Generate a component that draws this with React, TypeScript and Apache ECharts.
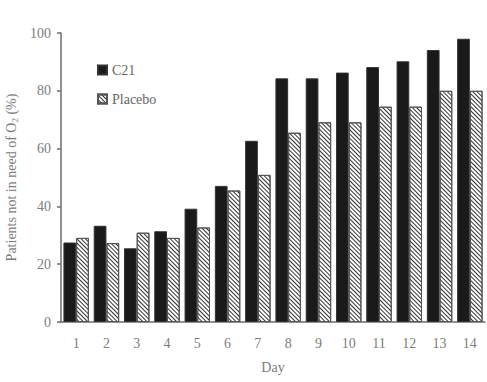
import React, { useEffect, useRef } from "react";
import * as echarts from "echarts";

const days = ["1", "2", "3", "4", "5", "6", "7", "8", "9", "10", "11", "12", "13", "14"];
const c21 = [27.5, 33.3, 25.5, 31.4, 39.2, 47.1, 62.7, 84.3, 84.3, 86.3, 88.2, 90.2, 94.1, 98.0];
const placebo = [29.1, 27.3, 30.9, 29.1, 32.7, 45.5, 50.9, 65.5, 69.1, 69.1, 74.5, 74.5, 80.0, 80.0];
const yTicks = { min: 0, max: 100, interval: 20 };

const FONT = "'Liberation Serif', 'Times New Roman', serif";
const TEXT = "#7d7d7d";
const AXIS = "#6e6e6e";

export default function App() {
  const ref = useRef<HTMLDivElement>(null);
  useEffect(() => {
    if (!ref.current) return;
    const chart = echarts.init(ref.current, undefined, { renderer: "svg" });
    chart.setOption({
      animation: false,
      textStyle: { fontFamily: FONT },
      grid: { left: 61, right: 2, top: 33, bottom: 60, containLabel: false, outerBoundsMode: "none" },
      legend: {
        orient: "vertical",
        left: 97,
        top: 63,
        padding: 0,
        icon: "rect",
        itemWidth: 9,
        itemHeight: 9,
        itemGap: 15,
        textStyle: { fontFamily: FONT, fontSize: 14, color: "#666" },
        data: ["C21", "Placebo"],
      },
      xAxis: {
        type: "category",
        data: days,
        name: "Day",
        nameLocation: "middle",
        nameGap: 38,
        nameTextStyle: { fontFamily: FONT, fontSize: 14, color: TEXT },
        axisLine: { show: true, lineStyle: { color: AXIS, width: 1.5 } },
        axisTick: { show: false },
        axisLabel: { fontFamily: FONT, fontSize: 14, color: TEXT, margin: 14 },
      },
      yAxis: {
        type: "value",
        min: yTicks.min,
        max: yTicks.max,
        interval: yTicks.interval,
        name: "Patients not in need of O{sub|2} (%)",
        nameLocation: "middle",
        nameGap: 42,
        nameTextStyle: {
          fontFamily: FONT,
          fontSize: 14,
          color: TEXT,
          rich: { sub: { fontFamily: FONT, fontSize: 9, color: TEXT, verticalAlign: "bottom", padding: [6, 0, 0, 0] } },
        },
        axisLine: { show: true, lineStyle: { color: AXIS, width: 1.5 } },
        axisTick: { show: true, length: 4, lineStyle: { color: AXIS, width: 1.5 } },
        splitLine: { show: false },
        axisLabel: { fontFamily: FONT, fontSize: 14, color: TEXT, margin: 10 },
      },
      series: [
        {
          name: "C21",
          type: "bar",
          data: c21,
          barGap: "0%",
          barCategoryGap: "16%",
          itemStyle: { color: "#1a1a1a", borderColor: "#333", borderWidth: 1 },
        },
        {
          name: "Placebo",
          type: "bar",
          data: placebo,
          barGap: "0%",
          barCategoryGap: "16%",
          itemStyle: {
            color: "#ffffff",
            borderColor: "#555",
            borderWidth: 1,
            decal: {
              symbol: "rect",
              symbolSize: 1,
              color: "#333333",
              backgroundColor: "#f2f2f2",
              dashArrayX: [1, 0],
              dashArrayY: [1, 2],
              rotation: Math.PI / 4,
            },
          },
        },
      ],
    });
    return () => chart.dispose();
  }, []);
  return <div ref={ref} style={{ width: 487, height: 382, position: "absolute", left: 0, top: 0, background: "#fff" }} />;
}
